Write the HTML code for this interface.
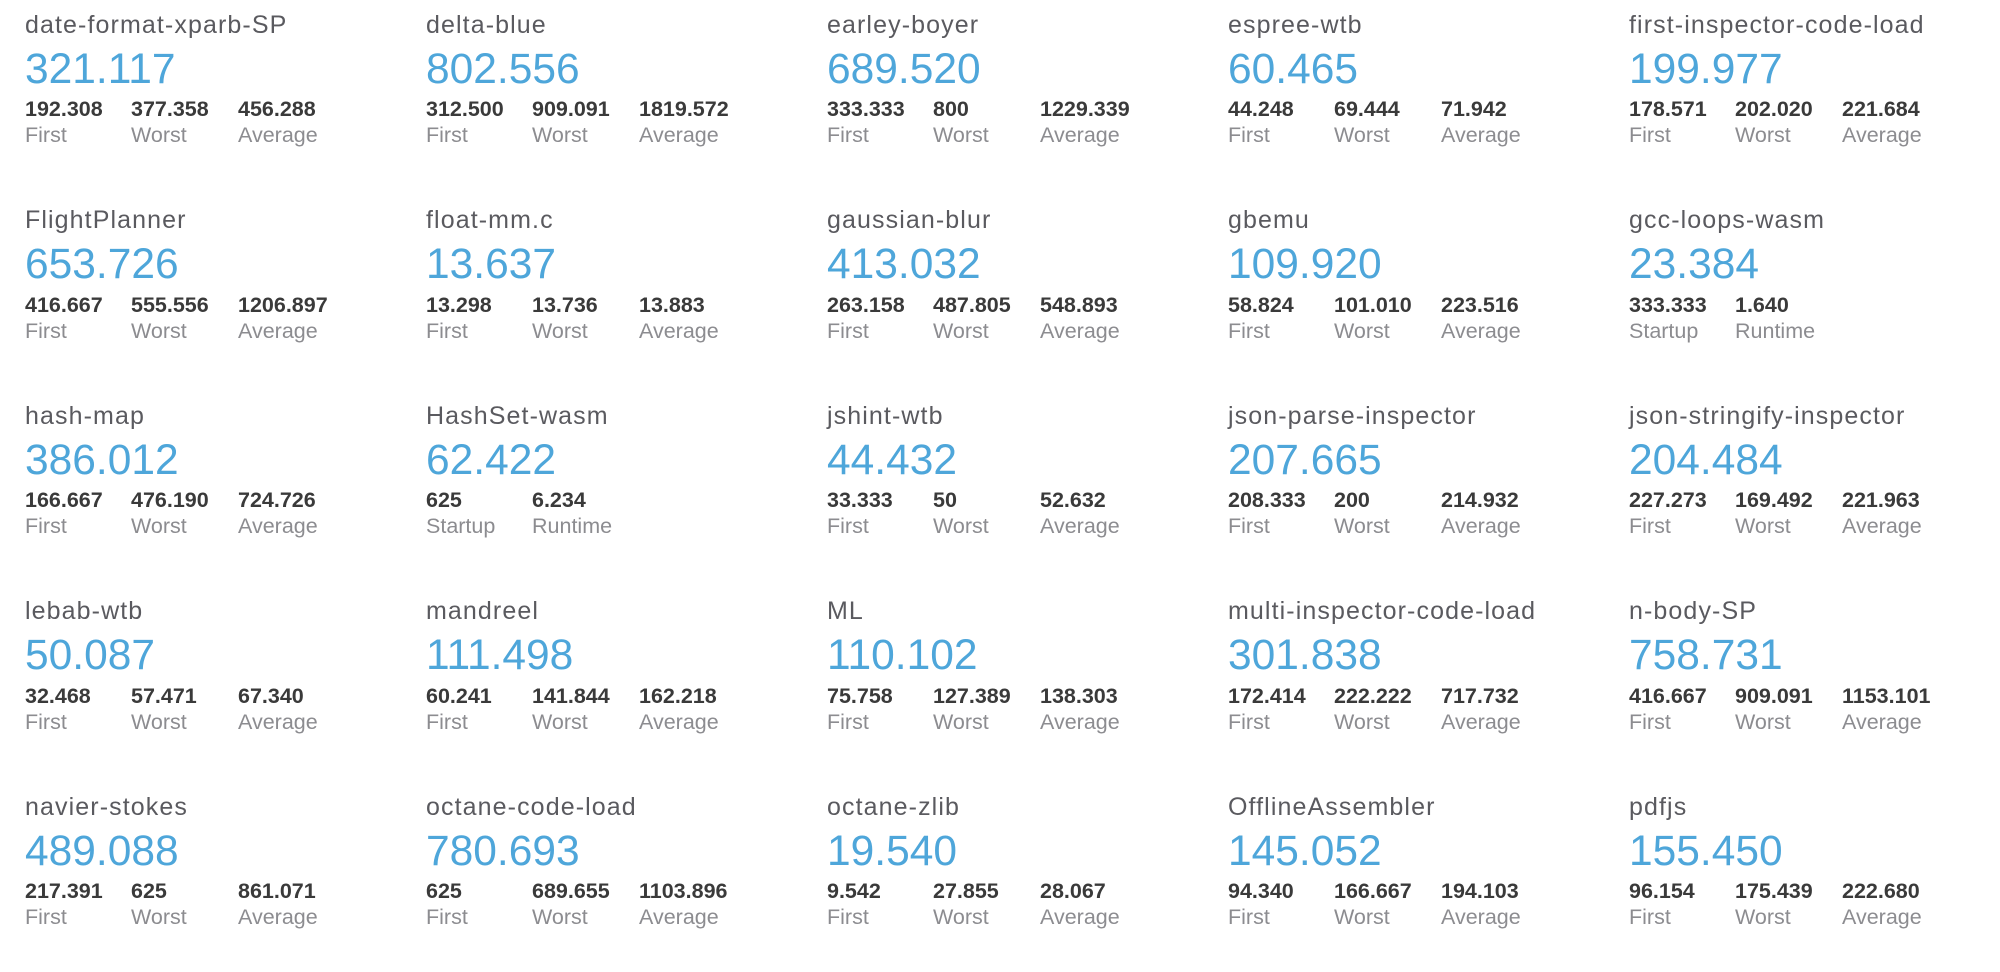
<!DOCTYPE html>
<html><head><meta charset="utf-8"><style>
html,body{margin:0;padding:0;background:#fff;width:2000px;height:969px;overflow:hidden;font-family:"Liberation Sans",Arial,sans-serif}
.c{position:absolute;width:400px;height:190px}
.c div{position:absolute;white-space:nowrap;line-height:1}
.t{left:0;top:12.5px;font-size:25px;color:#5a5a5f;letter-spacing:1.1px}
.b{left:0;top:48.5px;font-size:42.5px;color:#4ea6da}
.s{top:99px;font-size:21.5px;font-weight:bold;color:#3a3a3a}
.l{top:125px;font-size:21.5px;color:#8c8c90}
.x0{left:0}.x1{left:106px}.x2{left:213px}
</style></head><body>
<div class="c" style="left:25px;top:0px"><div class="t">date-format-xparb-SP</div><div class="b">321.117</div><div class="s x0">192.308</div><div class="s x1">377.358</div><div class="s x2">456.288</div><div class="l x0">First</div><div class="l x1">Worst</div><div class="l x2">Average</div></div>
<div class="c" style="left:426px;top:0px"><div class="t">delta-blue</div><div class="b">802.556</div><div class="s x0">312.500</div><div class="s x1">909.091</div><div class="s x2">1819.572</div><div class="l x0">First</div><div class="l x1">Worst</div><div class="l x2">Average</div></div>
<div class="c" style="left:827px;top:0px"><div class="t">earley-boyer</div><div class="b">689.520</div><div class="s x0">333.333</div><div class="s x1">800</div><div class="s x2">1229.339</div><div class="l x0">First</div><div class="l x1">Worst</div><div class="l x2">Average</div></div>
<div class="c" style="left:1228px;top:0px"><div class="t">espree-wtb</div><div class="b">60.465</div><div class="s x0">44.248</div><div class="s x1">69.444</div><div class="s x2">71.942</div><div class="l x0">First</div><div class="l x1">Worst</div><div class="l x2">Average</div></div>
<div class="c" style="left:1629px;top:0px"><div class="t">first-inspector-code-load</div><div class="b">199.977</div><div class="s x0">178.571</div><div class="s x1">202.020</div><div class="s x2">221.684</div><div class="l x0">First</div><div class="l x1">Worst</div><div class="l x2">Average</div></div>

<div class="c" style="left:25px;top:195.5px"><div class="t">FlightPlanner</div><div class="b">653.726</div><div class="s x0">416.667</div><div class="s x1">555.556</div><div class="s x2">1206.897</div><div class="l x0">First</div><div class="l x1">Worst</div><div class="l x2">Average</div></div>
<div class="c" style="left:426px;top:195.5px"><div class="t">float-mm.c</div><div class="b">13.637</div><div class="s x0">13.298</div><div class="s x1">13.736</div><div class="s x2">13.883</div><div class="l x0">First</div><div class="l x1">Worst</div><div class="l x2">Average</div></div>
<div class="c" style="left:827px;top:195.5px"><div class="t">gaussian-blur</div><div class="b">413.032</div><div class="s x0">263.158</div><div class="s x1">487.805</div><div class="s x2">548.893</div><div class="l x0">First</div><div class="l x1">Worst</div><div class="l x2">Average</div></div>
<div class="c" style="left:1228px;top:195.5px"><div class="t">gbemu</div><div class="b">109.920</div><div class="s x0">58.824</div><div class="s x1">101.010</div><div class="s x2">223.516</div><div class="l x0">First</div><div class="l x1">Worst</div><div class="l x2">Average</div></div>
<div class="c" style="left:1629px;top:195.5px"><div class="t">gcc-loops-wasm</div><div class="b">23.384</div><div class="s x0">333.333</div><div class="s x1">1.640</div><div class="l x0">Startup</div><div class="l x1">Runtime</div></div>

<div class="c" style="left:25px;top:391px"><div class="t">hash-map</div><div class="b">386.012</div><div class="s x0">166.667</div><div class="s x1">476.190</div><div class="s x2">724.726</div><div class="l x0">First</div><div class="l x1">Worst</div><div class="l x2">Average</div></div>
<div class="c" style="left:426px;top:391px"><div class="t">HashSet-wasm</div><div class="b">62.422</div><div class="s x0">625</div><div class="s x1">6.234</div><div class="l x0">Startup</div><div class="l x1">Runtime</div></div>
<div class="c" style="left:827px;top:391px"><div class="t">jshint-wtb</div><div class="b">44.432</div><div class="s x0">33.333</div><div class="s x1">50</div><div class="s x2">52.632</div><div class="l x0">First</div><div class="l x1">Worst</div><div class="l x2">Average</div></div>
<div class="c" style="left:1228px;top:391px"><div class="t">json-parse-inspector</div><div class="b">207.665</div><div class="s x0">208.333</div><div class="s x1">200</div><div class="s x2">214.932</div><div class="l x0">First</div><div class="l x1">Worst</div><div class="l x2">Average</div></div>
<div class="c" style="left:1629px;top:391px"><div class="t">json-stringify-inspector</div><div class="b">204.484</div><div class="s x0">227.273</div><div class="s x1">169.492</div><div class="s x2">221.963</div><div class="l x0">First</div><div class="l x1">Worst</div><div class="l x2">Average</div></div>

<div class="c" style="left:25px;top:586.5px"><div class="t">lebab-wtb</div><div class="b">50.087</div><div class="s x0">32.468</div><div class="s x1">57.471</div><div class="s x2">67.340</div><div class="l x0">First</div><div class="l x1">Worst</div><div class="l x2">Average</div></div>
<div class="c" style="left:426px;top:586.5px"><div class="t">mandreel</div><div class="b">111.498</div><div class="s x0">60.241</div><div class="s x1">141.844</div><div class="s x2">162.218</div><div class="l x0">First</div><div class="l x1">Worst</div><div class="l x2">Average</div></div>
<div class="c" style="left:827px;top:586.5px"><div class="t">ML</div><div class="b">110.102</div><div class="s x0">75.758</div><div class="s x1">127.389</div><div class="s x2">138.303</div><div class="l x0">First</div><div class="l x1">Worst</div><div class="l x2">Average</div></div>
<div class="c" style="left:1228px;top:586.5px"><div class="t">multi-inspector-code-load</div><div class="b">301.838</div><div class="s x0">172.414</div><div class="s x1">222.222</div><div class="s x2">717.732</div><div class="l x0">First</div><div class="l x1">Worst</div><div class="l x2">Average</div></div>
<div class="c" style="left:1629px;top:586.5px"><div class="t">n-body-SP</div><div class="b">758.731</div><div class="s x0">416.667</div><div class="s x1">909.091</div><div class="s x2">1153.101</div><div class="l x0">First</div><div class="l x1">Worst</div><div class="l x2">Average</div></div>

<div class="c" style="left:25px;top:782px"><div class="t">navier-stokes</div><div class="b">489.088</div><div class="s x0">217.391</div><div class="s x1">625</div><div class="s x2">861.071</div><div class="l x0">First</div><div class="l x1">Worst</div><div class="l x2">Average</div></div>
<div class="c" style="left:426px;top:782px"><div class="t">octane-code-load</div><div class="b">780.693</div><div class="s x0">625</div><div class="s x1">689.655</div><div class="s x2">1103.896</div><div class="l x0">First</div><div class="l x1">Worst</div><div class="l x2">Average</div></div>
<div class="c" style="left:827px;top:782px"><div class="t">octane-zlib</div><div class="b">19.540</div><div class="s x0">9.542</div><div class="s x1">27.855</div><div class="s x2">28.067</div><div class="l x0">First</div><div class="l x1">Worst</div><div class="l x2">Average</div></div>
<div class="c" style="left:1228px;top:782px"><div class="t">OfflineAssembler</div><div class="b">145.052</div><div class="s x0">94.340</div><div class="s x1">166.667</div><div class="s x2">194.103</div><div class="l x0">First</div><div class="l x1">Worst</div><div class="l x2">Average</div></div>
<div class="c" style="left:1629px;top:782px"><div class="t">pdfjs</div><div class="b">155.450</div><div class="s x0">96.154</div><div class="s x1">175.439</div><div class="s x2">222.680</div><div class="l x0">First</div><div class="l x1">Worst</div><div class="l x2">Average</div></div>
</body></html>
